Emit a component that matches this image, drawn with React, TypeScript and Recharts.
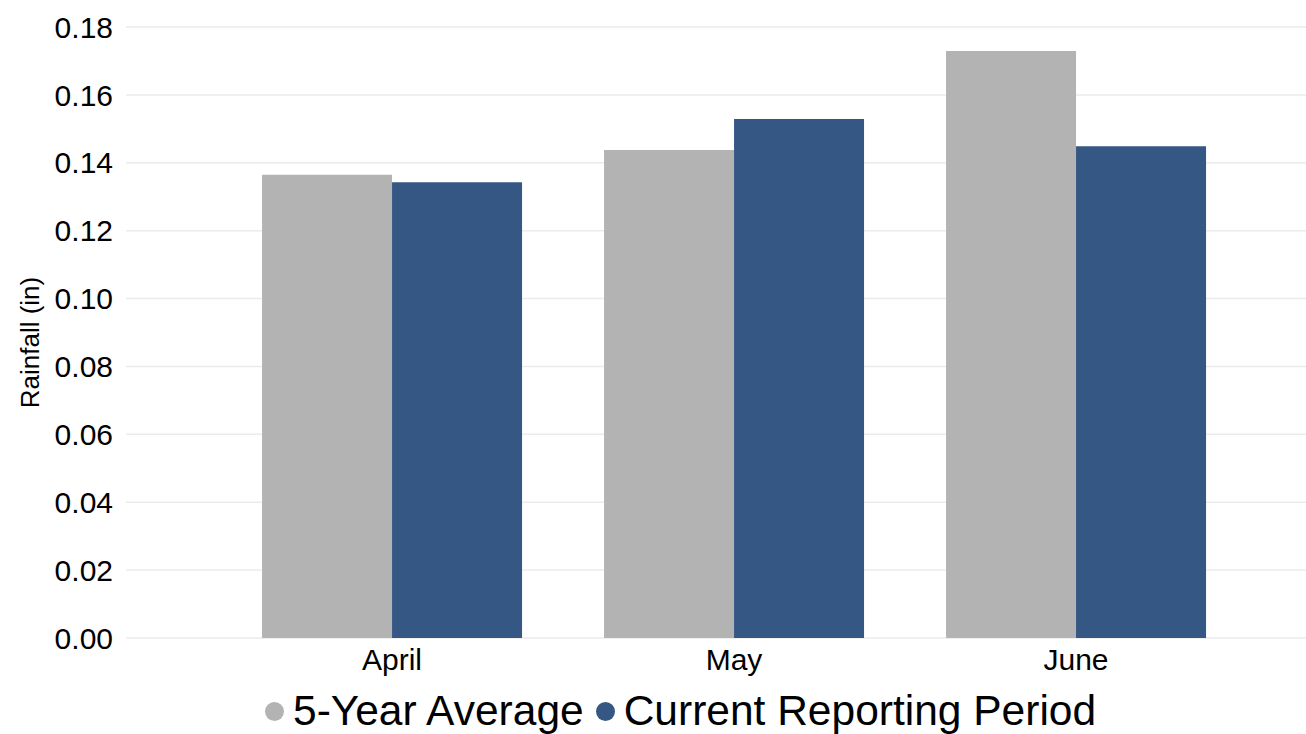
import React from "react";
import {
  BarChart,
  Bar,
  XAxis,
  YAxis,
  CartesianGrid,
  Legend,
  Label,
} from "recharts";

const months = ["April", "May", "June"];
const fiveYearAverage = [0.1365, 0.1438, 0.1729];
const currentPeriod = [0.1343, 0.1529, 0.1449];
const yTicks = [0, 0.02, 0.04, 0.06, 0.08, 0.1, 0.12, 0.14, 0.16, 0.18];

const GRAY = "#b3b3b3";
const BLUE = "#345784";
const FONT = "'Liberation Sans', Arial, sans-serif";

const data = months.map((m, i) => ({
  month: m,
  avg: fiveYearAverage[i],
  current: currentPeriod[i],
}));

const LegendContent = (props: any) => {
  const items = props.payload || [];
  return (
    <div
      style={{
        display: "flex",
        alignItems: "center",
        fontFamily: FONT,
        fontSize: 42.5,
        color: "#000",
        lineHeight: "46px",
        whiteSpace: "nowrap",
      }}
    >
      {items.map((it: any, i: number) => (
        <span
          key={i}
          style={{ display: "flex", alignItems: "center", marginRight: 12 }}
        >
          <span
            style={{
              width: 19,
              height: 19,
              borderRadius: 10,
              background: it.color,
              display: "inline-block",
              marginRight: 9,
            }}
          />
          {it.value}
        </span>
      ))}
    </div>
  );
};

// rotated y-axis title, centred a bit below the plot middle like the original
const YTitle = (props: any) => {
  const vb = props.viewBox || { y: 0, height: 0 };
  const cx = 30;
  const cy = vb.y + vb.height / 2 + 10;
  return (
    <text
      x={cx}
      y={cy}
      transform={`rotate(-90, ${cx}, ${cy})`}
      textAnchor="middle"
      dominantBaseline="central"
      fontFamily={FONT}
      fontSize={26}
      fill="#000"
    >
      Rainfall (in)
    </text>
  );
};

const App: React.FC = () => {
  return (
    <div style={{ position: "absolute", left: 0, top: 0 }}>
      <BarChart
        width={1306}
        height={734}
        data={data}
        margin={{ top: 27, right: 0, left: 0, bottom: 0 }}
        barCategoryGap="12%"
        barGap={0}
      >
        <CartesianGrid vertical={false} stroke="#ebebeb" strokeWidth={1.5} />
        <XAxis
          dataKey="month"
          axisLine={false}
          tickLine={false}
          tickSize={0}
          tickMargin={11}
          height={50}
          padding={{ left: 95, right: 59 }}
          tick={{ fill: "#000", fontSize: 30, fontFamily: FONT }}
        />
        <YAxis
          domain={[0, 0.18]}
          ticks={yTicks}
          tickFormatter={(v: number) => v.toFixed(2)}
          axisLine={false}
          tickLine={false}
          tickSize={0}
          tickMargin={13}
          width={126}
          tick={{ fill: "#000", fontSize: 30, fontFamily: FONT }}
        >
          <Label content={<YTitle />} />
        </YAxis>
        <Legend
          verticalAlign="bottom"
          content={<LegendContent />}
          wrapperStyle={{ left: 265, width: "auto", height: 46 }}
        />
        <Bar
          dataKey="avg"
          name="5-Year Average"
          fill={GRAY}
          isAnimationActive={false}
        />
        <Bar
          dataKey="current"
          name="Current Reporting Period"
          fill={BLUE}
          isAnimationActive={false}
        />
      </BarChart>
    </div>
  );
};

export default App;
